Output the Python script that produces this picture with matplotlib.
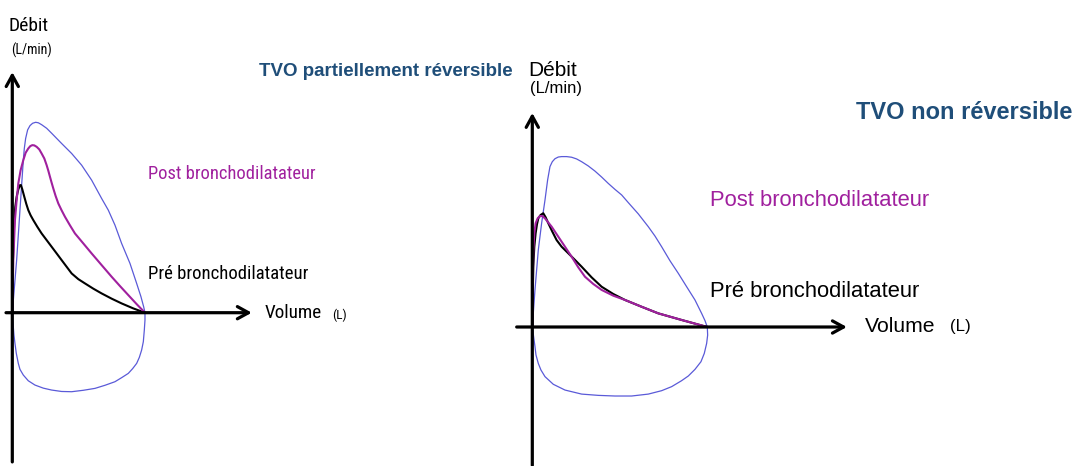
import matplotlib
matplotlib.use("Agg")
import matplotlib.pyplot as plt
from matplotlib import font_manager

# Panneau gauche : TVO partiellement réversible
left_theo_vol = [0, .131, .231, .332, .362, .402, .462, .533, .613, .704, .784, .884, 1.035, 1.186,
                 1.487, 1.789, 2.090, 2.392, 2.693, 2.894, 3.095, 3.296, 3.548, 3.749, 3.879, 3.960,
                 4.0, 4.0, 3.980, 3.950, 3.899, 3.829, 3.749, 3.628, 3.497, 3.296, 3.095, 2.794,
                 2.492, 2.141, 1.789, 1.487, 1.186, .935, .683, .482, .332, .231, .181, .121, .080,
                 .050, .030, .010, 0]
left_theo_deb = [0, 2.21, 4.31, 6.41, 6.90, 7.32, 7.68, 7.86, 7.96, 8.00, 7.98, 7.90, 7.75, 7.54,
                 7.11, 6.69, 6.20, 5.57, 4.80, 4.31, 3.68, 2.91, 2.07, 1.23, .67, .25,
                 0, -.31, -.73, -1.22, -1.57, -1.88, -2.13, -2.35, -2.55, -2.73, -2.90, -3.05,
                 -3.18, -3.26, -3.32, -3.31, -3.25, -3.17, -3.04, -2.86, -2.62, -2.38, -2.13, -1.71,
                 -1.29, -.94, -.59, -.24, 0]
left_post_vol = [0, .030, .080, .131, .181, .251, .332, .402, .482, .543, .603, .663, .734, .814,
                 .884, .965, 1.035, 1.085, 1.136, 1.186, 1.236, 1.307, 1.387, 1.487, 1.588, 1.739,
                 1.889, 2.141, 2.392, 2.693, 2.995, 3.246, 3.497, 3.749, 4.0]
left_post_deb = [0, 2.21, 3.89, 4.73, 5.43, 5.99, 6.41, 6.72, 6.90, 7.00, 7.04, 7.03, 6.97, 6.86,
                 6.69, 6.48, 6.20, 5.97, 5.71, 5.46, 5.22, 4.90, 4.59, 4.30, 4.03, 3.67,
                 3.33, 2.91, 2.49, 2.00, 1.51, 1.12, .74, .36, 0]
left_pre_vol = [0, .010, .020, .040, .060, .090, .131, .181, .231, .261, .302, .362, .422, .482,
                .553, .633, .754, .884, 1.035, 1.186, 1.337, 1.487, 1.638, 1.789, 1.990, 2.191,
                2.442, 2.693, 2.995, 3.296, 3.648, 4.0]
left_pre_deb = [0, 1.09, 2.21, 3.19, 3.89, 4.45, 4.87, 5.18, 5.36, 5.36, 5.18, 4.87, 4.57, 4.31,
                4.09, 3.89, 3.61, 3.33, 3.05, 2.77, 2.49, 2.21, 1.93, 1.65, 1.41, 1.23,
                1.01, .81, .59, .39, .18, 0]

# Panneau droit : TVO non réversible
right_theo_vol = [0, .061, .137, .213, .290, .350, .404, .457, .518, .594, .670, .785, .899, 1.013,
                  1.128, 1.280, 1.432, 1.585, 1.737, 1.890, 2.042, 2.194, 2.423, 2.651, 2.804,
                  2.956, 3.147, 3.337, 3.528, 3.718, 3.870, 3.947, 4.0, 4.008, 3.985, 3.931, 3.855,
                  3.718, 3.566, 3.413, 3.185, 2.956, 2.651, 2.270, 1.890, 1.509, 1.128, .747, .480,
                  .290, .198, .137, .084, .061, .030, 0]
right_theo_deb = [0, 1.74, 3.61, 4.87, 5.96, 6.90, 7.53, 7.76, 7.90, 7.98, 8.00, 8.00, 7.97, 7.89,
                  7.76, 7.56, 7.32, 7.04, 6.74, 6.46, 6.20, 5.84, 5.31, 4.71, 4.27,
                  3.77, 3.11, 2.52, 1.89, 1.27, .64, .30, 0, -.38, -.77, -1.24, -1.63,
                  -1.99, -2.30, -2.52, -2.80, -2.99, -3.15, -3.24, -3.24, -3.21, -3.15, -2.96, -2.69,
                  -2.33, -2.02, -1.71, -1.31, -.92, -.45, 0]
right_post_vol = [0, .008, .023, .046, .076, .122, .175, .229, .290, .442, .594, .747, .899, 1.051,
                  1.204, 1.394, 1.585, 1.851, 2.118, 2.499, 2.880, 3.413, 4.0]
right_post_deb = [0, 1.58, 3.61, 4.40, 4.87, 5.10, 5.21, 5.21, 5.10, 4.71, 4.24, 3.77, 3.30, 2.80,
                  2.36, 2.02, 1.74, 1.47, 1.27, .95, .64, .33, 0]
right_pre_vol = [0, .008, .023, .046, .076, .107, .137, .190, .251, .305, .366, .457, .556, .670,
                 .823, .975, 1.128, 1.356, 1.585, 1.851, 2.118, 2.499, 2.880, 3.413, 4.0]
right_pre_deb = [0, 1.27, 2.83, 3.77, 4.40, 4.82, 5.10, 5.26, 5.34, 5.15, 4.87, 4.48, 4.08, 3.77,
                 3.46, 3.15, 2.83, 2.33, 1.89, 1.55, 1.27, .95, .64, .33, 0]

W, H = 1086, 466
BLUE = "#5a5ad8"
PURPLE = "#a0209e"
TITLE = "#1f4e79"

names = {f.name for f in font_manager.fontManager.ttflist}
narrow = None
for cand in ["Liberation Sans Narrow", "Roboto Condensed", "DejaVu Sans Condensed"]:
    if cand in names:
        narrow = cand
        break
if narrow is None:
    narrow, nf = "Liberation Sans", 0.82
else:
    nf = 1.0
REG = "Liberation Sans"

fig = plt.figure(figsize=(W / 100, H / 100), dpi=100)


def make_axes(box, origin, scale):
    x0, y0, x1, y1 = box
    ox, oy = origin
    sx, sy = scale
    ax = fig.add_axes([x0 / W, 1 - y1 / H, (x1 - x0) / W, (y1 - y0) / H])
    ax.set_xlim((x0 - ox) / sx, (x1 - ox) / sx)
    ax.set_ylim((oy - y1) / sy, (oy - y0) / sy)
    ax.axis("off")
    return ax


def arrow(ax, start, end):
    ax.annotate("", xy=end, xytext=start,
                arrowprops=dict(arrowstyle="->,head_length=0.4,head_width=0.22",
                                lw=2.3, color="black", mutation_scale=20,
                                shrinkA=0, shrinkB=0))


def txt(x, y, s, size, family, color="black", weight="normal"):
    fig.text(x / W, 1 - y / H, s, fontsize=size, family=family, color=color,
             weight=weight, va="baseline", ha="left")


line_kw = dict(solid_joinstyle="round", solid_capstyle="round")

# gauche
axl = make_axes((0, 0, 400, 466), (12.3, 312.7), (33.17, 23.8))
arrow(axl, (-0.19, 0), (7.22, 0))
arrow(axl, (0, -6.27), (0, 10.11))
axl.plot(left_theo_vol, left_theo_deb, color=BLUE, lw=0.9, **line_kw)
axl.plot(left_pre_vol, left_pre_deb, color="black", lw=1.5, **line_kw)
axl.plot(left_post_vol, left_post_deb, color=PURPLE, lw=1.5, **line_kw)

txt(9, 31, "Débit", 14 * nf, narrow)
txt(11, 55, "(L/min)", 10 * nf, narrow)
txt(259, 76, "TVO partiellement réversible", 13.5, REG, TITLE, "bold")
txt(148, 179, "Post bronchodilatateur", 13.3 * nf, narrow, PURPLE)
txt(148, 279, "Pré bronchodilatateur", 13.5 * nf, narrow)
txt(265, 318, "Volume", 13.8 * nf, narrow)
txt(332, 319, "(L)", 9.5 * nf, narrow)

# droite
axr = make_axes((500, 0, 1086, 466), (532.3, 327.0), (43.75, 21.3))
arrow(axr, (-0.357, 0), (7.19, 0))
arrow(axr, (0, -6.5), (0, 10.05))
axr.plot(right_theo_vol, right_theo_deb, color=BLUE, lw=0.9, **line_kw)
axr.plot(right_pre_vol, right_pre_deb, color="black", lw=1.5, **line_kw)
axr.plot(right_post_vol, right_post_deb, color=PURPLE, lw=1.5, **line_kw)

txt(528, 76.5, "Débit", 15, REG)
txt(530, 93.5, "(L/min)", 12, REG)
txt(856, 119, "TVO non réversible", 17, REG, TITLE, "bold")
txt(710, 206.5, "Post bronchodilatateur", 15.8, REG, PURPLE)
txt(710, 297, "Pré bronchodilatateur", 15.8, REG)
txt(865, 331.5, "Volume", 15.2, REG)
txt(950, 331, "(L)", 12.2, REG)

fig.savefig("out.png", dpi=100)
